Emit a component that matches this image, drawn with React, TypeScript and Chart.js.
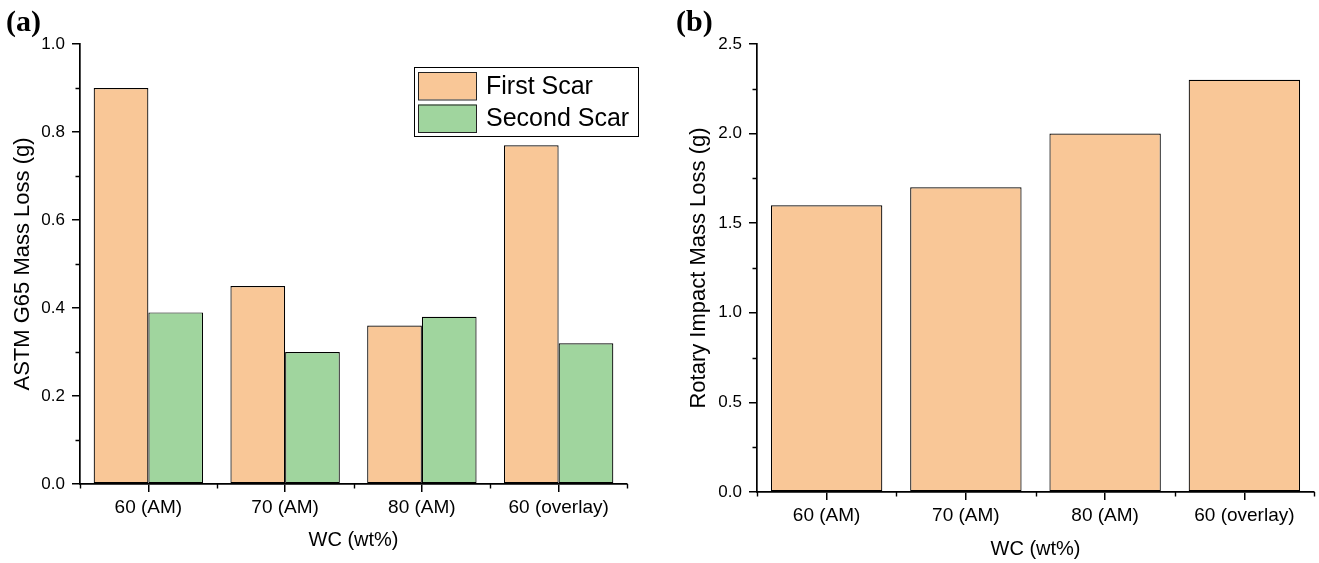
import React, { useEffect, useRef } from 'react';
import { Chart, registerables } from 'chart.js';

Chart.register(...registerables);

// ---- data ----
const categories = ['60 (AM)', '70 (AM)', '80 (AM)', '60 (overlay)'];
const firstScar = [0.9, 0.45, 0.36, 0.77];
const secondScar = [0.39, 0.3, 0.38, 0.32];
const rotaryLoss = [1.6, 1.7, 2.0, 2.3];
const seriesLabels = ['First Scar', 'Second Scar'];
const yTitleA = 'ASTM G65 Mass Loss (g)';
const yTitleB = 'Rotary Impact Mass Loss (g)';
const xTitle = 'WC (wt%)';
const panelA = '(a)';
const panelB = '(b)';

// ---- style ----
const ORANGE = '#F9C797';
const GREEN = '#A0D59E';
const EDGE = '#000000';
const SANS = "'Liberation Sans', Arial, sans-serif";
const SERIF = "'Liberation Serif', 'Times New Roman', serif";

const minorTicks = {
  id: 'minorTicks',
  afterDraw(chart: any) {
    const ctx = chart.ctx;
    const xs = chart.scales.x;
    const ys = chart.scales.y;
    ctx.save();
    ctx.strokeStyle = '#000';
    ctx.lineWidth = 1.4;
    const n = chart.data.labels.length;
    const w = (xs.right - xs.left) / n;
    ctx.beginPath();
    for (let i = 0; i <= n; i++) {
      const px = Math.round(xs.left + i * w) + 0.5;
      ctx.moveTo(px, xs.top);
      ctx.lineTo(px, xs.top + 4.5);
    }
    const t = ys.ticks;
    for (let i = 0; i < t.length - 1; i++) {
      const v = (t[i].value + t[i + 1].value) / 2;
      const py = Math.round(ys.getPixelForValue(v)) + 0.5;
      ctx.moveTo(ys.right - 4.5, py);
      ctx.lineTo(ys.right, py);
    }
    ctx.stroke();
    ctx.restore();
  },
};

const panelLabel = {
  id: 'panelLabel',
  afterDraw(chart: any, _args: any, opts: any) {
    const ctx = chart.ctx;
    ctx.save();
    ctx.fillStyle = '#000';
    ctx.font = `bold ${opts.size}px ${SERIF}`;
    ctx.textBaseline = 'alphabetic';
    ctx.textAlign = 'left';
    ctx.fillText(opts.text, opts.x, opts.y);
    ctx.restore();
  },
};

const boxLegend = {
  id: 'boxLegend',
  afterDraw(chart: any, _args: any, opts: any) {
    if (!opts || !opts.display) return;
    const ctx = chart.ctx;
    const { x, y, w, h } = opts;
    ctx.save();
    ctx.fillStyle = '#fff';
    ctx.fillRect(x, y, w, h);
    ctx.strokeStyle = '#000';
    ctx.lineWidth = 1;
    ctx.strokeRect(x + 0.5, y + 0.5, w, h);
    ctx.font = `25px ${SANS}`;
    ctx.textBaseline = 'middle';
    ctx.textAlign = 'left';
    chart.data.datasets.forEach((ds: any, i: number) => {
      const sy = y + 5 + i * 32.5;
      ctx.fillStyle = ds.backgroundColor;
      ctx.fillRect(x + 4, sy, 58, 27.5);
      ctx.strokeStyle = '#222';
      ctx.strokeRect(x + 4.5, sy + 0.5, 58, 27.5);
      ctx.fillStyle = '#000';
      ctx.fillText(ds.label, x + 72, sy + 15);
    });
    ctx.restore();
  },
};

function axisCommon(extra: any) {
  return {
    grid: {
      display: true,
      drawOnChartArea: false,
      drawTicks: true,
      tickLength: 8,
      color: '#000',
      lineWidth: 1.5,
      ...(extra.grid || {}),
    },
    border: { display: true, color: '#000', width: 1.7 },
  };
}

function makeConfig(kind: 'a' | 'b'): any {
  const isA = kind === 'a';
  const bar = (label: string, data: number[], color: string) => ({
    label,
    data,
    backgroundColor: color,
    borderColor: EDGE,
    borderWidth: 1.2,
    borderSkipped: false,
    categoryPercentage: 0.8,
    barPercentage: 1,
  });
  const datasets = isA
    ? [bar(seriesLabels[0], firstScar, ORANGE), bar(seriesLabels[1], secondScar, GREEN)]
    : [bar('Rotary Impact', rotaryLoss, ORANGE)];
  return {
    type: 'bar',
    data: { labels: categories, datasets },
    plugins: [minorTicks, panelLabel, boxLegend],
    options: {
      responsive: false,
      maintainAspectRatio: false,
      animation: false,
      layout: { padding: { left: 0, right: isA ? 33 : 5, top: 44, bottom: 0 } },
      plugins: {
        legend: { display: false },
        tooltip: { enabled: false },
        panelLabel: isA
          ? { text: panelA, x: 6, y: 31, size: 30 }
          : { text: panelB, x: 16, y: 31, size: 30 },
        boxLegend: isA ? { display: true, x: 414, y: 67, w: 224, h: 69 } : { display: false },
      },
      scales: {
        x: {
          offset: true,
          ...axisCommon({ grid: { offset: false } }),
          ticks: {
            color: '#000',
            font: { family: SANS, size: 19 },
            padding: 4,
            maxRotation: 0,
            autoSkip: false,
          },
          title: {
            display: true,
            text: xTitle,
            color: '#000',
            font: { family: SANS, size: 20 },
            padding: { top: 0, bottom: isA ? 11 : 2 },
          },
          afterFit: (s: any) => {
            s.height = isA ? 79 : 71;
          },
        },
        y: {
          min: 0,
          max: isA ? 1 : 2.5,
          ...axisCommon({}),
          ticks: {
            stepSize: isA ? 0.2 : 0.5,
            callback: (v: any) => Number(v).toFixed(1),
            color: '#000',
            font: { family: SANS, size: 17 },
            padding: 7,
          },
          title: {
            display: true,
            text: isA ? yTitleA : yTitleB,
            color: '#000',
            font: { family: SANS, size: 22 },
            padding: { top: isA ? 10 : 26, bottom: 0 },
          },
          afterFit: (s: any) => {
            s.width = isA ? 80 : 97;
          },
        },
      },
    },
  };
}

function BarPanel({ kind, left, width }: { kind: 'a' | 'b'; left: number; width: number }) {
  const ref = useRef<HTMLCanvasElement | null>(null);
  useEffect(() => {
    if (!ref.current) return;
    const chart = new Chart(ref.current, makeConfig(kind));
    return () => chart.destroy();
  }, [kind]);
  return (
    <canvas
      ref={ref}
      width={width}
      height={563}
      style={{ position: 'absolute', left, top: 0, width, height: 563, display: 'block' }}
    />
  );
}

export default function App() {
  return (
    <div
      style={{
        position: 'fixed',
        left: 0,
        top: 0,
        width: 1319,
        height: 563,
        background: '#fff',
        overflow: 'hidden',
      }}
    >
      <BarPanel kind="a" left={0} width={660} />
      <BarPanel kind="b" left={660} width={659} />
    </div>
  );
}
